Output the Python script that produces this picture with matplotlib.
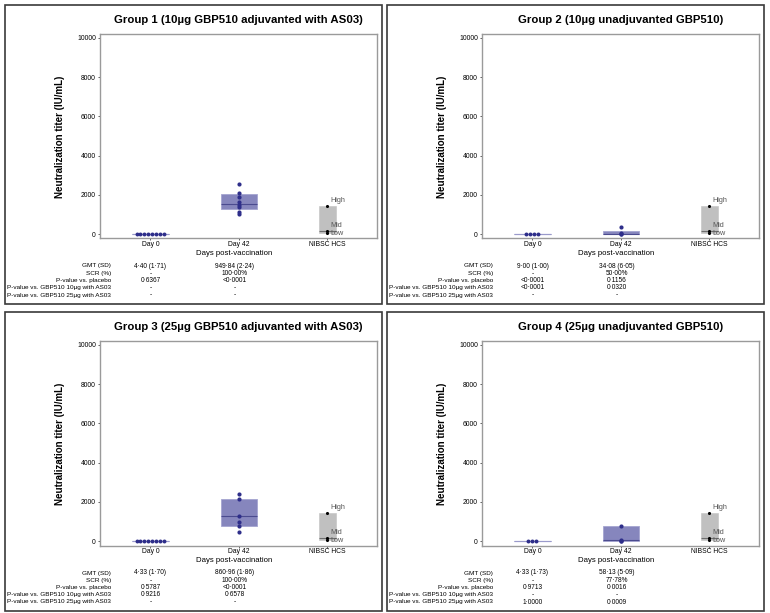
import matplotlib
matplotlib.use('Agg')
import matplotlib.pyplot as plt
from matplotlib.patches import Rectangle
from matplotlib.transforms import blended_transform_factory
import numpy as np

plt.rcParams['font.family'] = ['Liberation Sans', 'DejaVu Sans']

W, H = 770, 613

titles = ['Group 1 (10µg GBP510 adjuvanted with AS03)',
          'Group 2 (10µg unadjuvanted GBP510)',
          'Group 3 (25µg GBP510 adjuvanted with AS03)',
          'Group 4 (25µg unadjuvanted GBP510)']
x_labels = ['Day 0', 'Day 42', 'NIBSC HCS']
y_ticks = [0, 2000, 4000, 6000, 8000, 10000]

# individual titers
day0_values = [[4, 4, 4, 4, 4, 4, 4, 8],
               [9, 9, 9, 9],
               [4, 4, 4, 4, 4, 4, 4, 8],
               [4, 4, 8]]
day42_values = [[2560, 2120, 1910, 1630, 1510, 1400, 1130, 1030],
                [390, 50, 10, 10],
                [2400, 2140, 1310, 970, 770, 460],
                [780, 60, 20, 10]]
# q1, median, q3
day42_box = [(1270, 1530, 2040),
             (10, 30, 170),
             (780, 1290, 2140),
             (10, 40, 770)]
nibsc_names = ['High', 'Mid', 'Low']
nibsc_values = [1460, 180, 40]

row_labels = ['GMT (SD)', 'SCR (%)', 'P-value vs. placebo',
              'P-value vs. GBP510 10µg with AS03',
              'P-value vs. GBP510 25µg with AS03']
table_day0 = [['4·40 (1·71)', '-', '0·6367', '-', '-'],
              ['9·00 (1·00)', '-', '<0·0001', '<0·0001', '-'],
              ['4·33 (1·70)', '-', '0·5787', '0·9216', '-'],
              ['4·33 (1·73)', '-', '0·9713', '-', '1·0000']]
table_day42 = [['949·84 (2·24)', '100·00%', '<0·0001', '-', '-'],
               ['34·08 (6·05)', '50·00%', '0·1156', '0·0320', '-'],
               ['860·96 (1·86)', '100·00%', '<0·0001', '0·6578', '-'],
               ['58·13 (5·09)', '77·78%', '0·0016', '-', '0·0009']]

box_fill = '#8686BD'
dot_col = '#2E2E8A'

fig = plt.figure(figsize=(W / 100, H / 100), dpi=100)


def px(x, y):
    return x / W, 1 - y / H


for i in range(4):
    dx = 382 * (i % 2)
    dy = 307 * (i // 2)

    # panel frame
    fx0, fy1 = px(5 + dx, 304 + dy)
    fig.add_artist(Rectangle((fx0, fy1), 377 / W, 299 / H, transform=fig.transFigure,
                             fill=False, ec='#3a3a3a', lw=1.2))

    l, b = px(100 + dx, 238.5 + dy)
    ax = fig.add_axes([l, b, 277 / W, 204.2 / H])

    # day 0, collapsed box
    g = np.exp(np.mean(np.log(day0_values[i])))
    ax.bxp([dict(med=g, q1=g, q3=g, whislo=g, whishi=g, fliers=[])], positions=[1],
           widths=0.41, showcaps=False, patch_artist=True,
           boxprops=dict(facecolor=box_fill, edgecolor='#9a9acb', lw=0.8),
           medianprops=dict(color='#9a9acb', lw=0.8),
           whiskerprops=dict(lw=0))
    n = len(day0_values[i])
    xs = 1 + (np.arange(n) - (n - 1) / 2) * 0.045
    ax.scatter(xs, day0_values[i], s=8, color=dot_col, zorder=3, lw=0)

    # day 42
    q1, med, q3 = day42_box[i]
    ax.bxp([dict(med=med, q1=q1, q3=q3, whislo=q1, whishi=q3, fliers=[])], positions=[2],
           widths=0.41, showcaps=False, patch_artist=True,
           boxprops=dict(facecolor=box_fill, edgecolor='#a5a5d0', lw=0.6),
           medianprops=dict(color='#4b4b8f', lw=0.8),
           whiskerprops=dict(lw=0))
    ax.scatter([2] * len(day42_values[i]), day42_values[i], s=9, color=dot_col, zorder=3, lw=0)

    # NIBSC HCS reference panel
    ax.bxp([dict(med=nibsc_values[1], q1=nibsc_values[2], q3=nibsc_values[0],
                 whislo=nibsc_values[2], whishi=nibsc_values[0], fliers=[])], positions=[3],
           widths=0.2, showcaps=False, patch_artist=True,
           boxprops=dict(facecolor='#c0c0c0', edgecolor='#c8c8c8', lw=0.5),
           medianprops=dict(color='#6e6e6e', lw=0.8),
           whiskerprops=dict(lw=0))
    ax.scatter([3] * 3, nibsc_values, s=5, color='black', zorder=3, lw=0)
    for name, v, off in zip(nibsc_names, nibsc_values, [4, 4, 0]):
        ax.annotate(name, (3, v), xytext=(2, off), textcoords='offset points',
                    ha='left', va='center', fontsize=5.2, color='#555555')

    ax.set_xlim(0.43, 3.56)
    ax.set_ylim(-215, 10175)
    ax.set_xticks([1, 2, 3])
    ax.set_xticklabels(x_labels)
    ax.set_yticks(y_ticks)
    ax.tick_params(labelsize=4.9, length=1.5, width=0.6, color='#444444', pad=1.5)
    ax.tick_params(axis='x', pad=0.6)
    for s in ax.spines.values():
        s.set_color('#9a9a9a')
        s.set_linewidth(1.0)

    ax.set_ylabel('Neutralization titer (IU/mL)', fontsize=7, fontweight='bold')
    ax.yaxis.set_label_coords(-0.125, 0.5)

    tx, ty = px(238.5 + dx, 20 + dy)
    fig.text(tx, ty, titles[i], fontsize=8.2, fontweight='bold', ha='center', va='center')
    lx, ly = px(234 + dx, 254 + dy)
    fig.text(lx, ly, 'Days post-vaccination', fontsize=5.6, ha='center', va='center')

    trans = blended_transform_factory(ax.transData, fig.transFigure)
    for r, lab in enumerate(row_labels):
        rx, ry = px(111 + dx, 266 + 7.25 * r + dy)
        fig.text(rx, ry, lab, fontsize=4.6, ha='right', va='center')
        ax.text(1, ry, table_day0[i][r], fontsize=4.7, ha='center', va='center', transform=trans)
        ax.text(1.95, ry, table_day42[i][r], fontsize=4.7, ha='center', va='center', transform=trans)

fig.savefig('out.png', dpi=100)
